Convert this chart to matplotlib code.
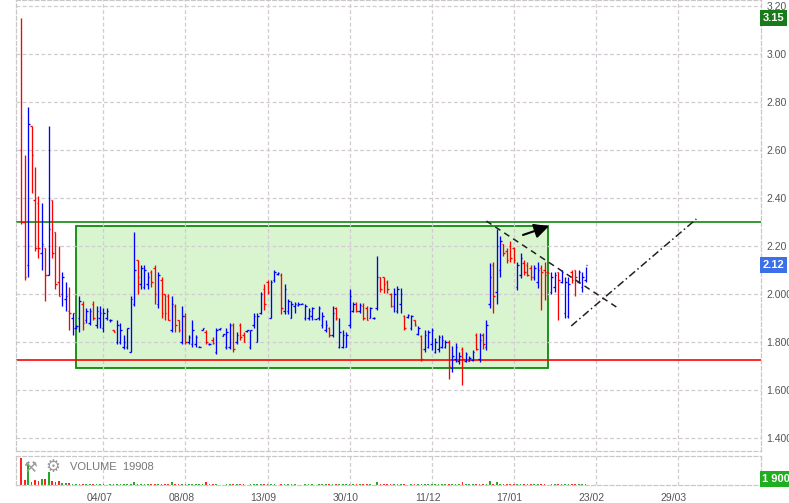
import matplotlib.pyplot as plt
import matplotlib.transforms as mtransforms
from matplotlib.patches import Rectangle

plt.rcParams['font.family'] = ['Liberation Sans', 'DejaVu Sans']

# --- данные (дневные бары OHLC) ---
opens = [2.60, 2.30, 2.12, 2.70, 2.39, 2.38, 2.17, 2.19, 2.08, 2.39,
         2.26, 2.05, 2.00, 1.98, 1.93, 1.90, 1.86, 1.90, 1.96, 1.89,
         1.88, 1.96, 1.87, 1.90, 1.86, 1.90, 1.89, 1.85, 1.80, 1.80,
         1.78, 1.78, 1.76, 1.96, 2.14, 2.04, 2.03, 2.04, 2.09, 2.11,
         1.96, 2.06, 2.00, 1.99, 1.85, 1.95, 1.89, 1.80, 1.91, 1.80,
         1.79, 1.79, 1.78, 1.85, 1.84, 1.79, 1.81, 1.76, 1.855, 1.826,
         1.78, 1.78, 1.87, 1.80, 1.87, 1.83, 1.845, 1.78, 1.87, 1.80,
         1.92, 2.02, 2.05, 1.90, 2.06, 2.085, 2.08, 1.93, 1.93, 1.90,
         1.95, 1.955, 1.96, 1.90, 1.90, 1.91, 1.895, 1.90, 1.87, 1.85,
         1.86, 1.83, 1.94, 1.78, 1.78, 1.78, 1.87, 1.93, 1.96, 1.93,
         1.95, 1.94, 1.90, 1.90, 1.94, 2.07, 2.07, 2.05, 2.00, 1.95,
         1.93, 1.96, 1.91, 1.905, 1.86, 1.89, 1.835, 1.825, 1.77, 1.78,
         1.79, 1.76, 1.77, 1.78, 1.78, 1.80, 1.69, 1.73, 1.72, 1.77,
         1.72, 1.72, 1.725, 1.83, 1.73, 1.83, 1.78, 1.96, 2.12, 2.01,
         2.10, 2.21, 2.18, 2.20, 2.19, 2.03, 2.08, 2.13, 2.12, 2.11,
         2.07, 2.05, 2.11, 2.10, 2.09, 2.01, 2.03, 2.09, 2.05, 1.92,
         1.91, 2.09, 2.10, 2.05, 2.03, 2.06]
highs = [3.15, 2.58, 2.78, 2.70, 2.53, 2.41, 2.38, 2.19, 2.70, 2.39,
         2.26, 2.20, 2.09, 2.05, 2.03, 1.92, 1.87, 1.99, 1.97, 1.94,
         1.94, 1.97, 1.95, 1.95, 1.94, 1.94, 1.895, 1.85, 1.89, 1.88,
         1.83, 1.86, 1.99, 2.26, 2.14, 2.12, 2.12, 2.09, 2.10, 2.12,
         2.09, 2.07, 2.00, 2.00, 1.99, 1.96, 1.89, 1.95, 1.92, 1.83,
         1.89, 1.83, 1.785, 1.86, 1.85, 1.795, 1.82, 1.86, 1.86, 1.834,
         1.86, 1.88, 1.88, 1.84, 1.88, 1.84, 1.85, 1.85, 1.92, 1.92,
         2.01, 2.04, 2.06, 2.06, 2.10, 2.09, 2.086, 2.04, 1.98, 1.97,
         1.965, 1.965, 1.962, 1.96, 1.94, 1.945, 1.898, 1.95, 1.926, 1.89,
         1.864, 1.95, 1.947, 1.90, 1.85, 1.843, 2.02, 1.968, 1.968, 1.961,
         1.961, 1.95, 1.947, 1.905, 2.16, 2.072, 2.072, 2.058, 2.003, 2.024,
         2.035, 2.024, 1.912, 1.915, 1.912, 1.892, 1.868, 1.829, 1.85, 1.85,
         1.86, 1.815, 1.83, 1.83, 1.81, 1.81, 1.785, 1.794, 1.76, 1.78,
         1.76, 1.74, 1.767, 1.836, 1.836, 1.836, 1.892, 2.13, 2.135, 2.27,
         2.24, 2.21, 2.19, 2.22, 2.197, 2.135, 2.169, 2.14, 2.135, 2.12,
         2.12, 2.135, 2.12, 2.135, 2.093, 2.093, 2.093, 2.093, 2.10, 2.072,
         2.072, 2.10, 2.10, 2.10, 2.09, 2.114]
lows = [2.29, 2.06, 2.07, 2.42, 2.18, 2.15, 2.10, 1.97, 2.08, 2.15,
        2.02, 1.99, 1.95, 1.93, 1.85, 1.83, 1.855, 1.84, 1.85, 1.88,
        1.87, 1.89, 1.86, 1.86, 1.84, 1.89, 1.885, 1.84, 1.79, 1.79,
        1.77, 1.77, 1.76, 1.95, 2.00, 2.02, 2.02, 2.02, 2.03, 1.96,
        1.94, 1.90, 1.89, 1.89, 1.84, 1.84, 1.84, 1.79, 1.79, 1.79,
        1.78, 1.78, 1.778, 1.85, 1.79, 1.788, 1.79, 1.75, 1.85, 1.825,
        1.77, 1.77, 1.76, 1.79, 1.81, 1.80, 1.843, 1.77, 1.86, 1.80,
        1.915, 1.935, 2.00, 1.90, 2.05, 2.08, 1.915, 1.915, 1.915, 1.90,
        1.92, 1.95, 1.958, 1.89, 1.89, 1.89, 1.894, 1.89, 1.857, 1.843,
        1.822, 1.82, 1.892, 1.774, 1.774, 1.778, 1.86, 1.926, 1.926, 1.919,
        1.892, 1.892, 1.899, 1.895, 1.933, 2.01, 2.003, 2.003, 1.947, 1.926,
        1.92, 1.92, 1.85, 1.90, 1.85, 1.865, 1.829, 1.72, 1.76, 1.774,
        1.767, 1.753, 1.76, 1.774, 1.774, 1.646, 1.676, 1.718, 1.71, 1.62,
        1.715, 1.72, 1.72, 1.767, 1.718, 1.77, 1.767, 1.94, 1.92, 1.96,
        2.07, 2.16, 2.13, 2.135, 2.128, 2.017, 2.065, 2.079, 2.076, 2.058,
        2.06, 2.024, 1.933, 1.975, 2.086, 2.00, 2.01, 1.892, 2.044, 1.899,
        1.899, 2.044, 1.99, 2.044, 2.01, 2.05]
closes = [2.30, 2.07, 2.71, 2.58, 2.19, 2.19, 2.21, 2.08, 2.27, 2.17,
          2.04, 1.99, 2.07, 1.99, 1.92, 1.92, 1.865, 1.97, 1.88, 1.93,
          1.93, 1.90, 1.93, 1.92, 1.92, 1.93, 1.892, 1.843, 1.87, 1.85,
          1.80, 1.86, 1.98, 2.10, 2.07, 2.11, 2.10, 2.07, 2.05, 2.00,
          2.08, 1.92, 1.92, 1.89, 1.96, 1.87, 1.85, 1.91, 1.80, 1.82,
          1.85, 1.82, 1.781, 1.86, 1.80, 1.792, 1.795, 1.85, 1.86, 1.832,
          1.84, 1.87, 1.77, 1.83, 1.82, 1.80, 1.85, 1.85, 1.91, 1.91,
          2.00, 1.96, 2.01, 2.05, 2.09, 2.086, 1.94, 2.02, 1.97, 1.96,
          1.96, 1.96, 1.96, 1.95, 1.93, 1.94, 1.896, 1.94, 1.91, 1.87,
          1.83, 1.92, 1.90, 1.84, 1.83, 1.83, 1.99, 1.96, 1.93, 1.955,
          1.90, 1.89, 1.94, 1.90, 2.07, 2.02, 2.04, 2.02, 1.95, 2.00,
          2.02, 2.00, 1.86, 1.912, 1.91, 1.87, 1.86, 1.73, 1.83, 1.84,
          1.85, 1.80, 1.82, 1.81, 1.80, 1.70, 1.74, 1.78, 1.74, 1.73,
          1.75, 1.735, 1.76, 1.77, 1.81, 1.79, 1.87, 2.07, 1.99, 2.20,
          2.22, 2.17, 2.14, 2.15, 2.14, 2.12, 2.15, 2.09, 2.08, 2.07,
          2.11, 2.10, 2.09, 2.08, 2.088, 2.07, 2.08, 2.06, 2.09, 2.05,
          2.04, 2.06, 2.07, 2.09, 2.07, 2.12]
volumes = [93, 17, 72, 10, 17, 14, 21, 21, 45, 14, 10, 14, 7, 7, 7,
           3, 2, 2, 2, 2, 2, 2, 2, 2, 2, 1, 2, 2, 2, 2, 2,
           2, 2, 10, 2, 2, 2, 2, 2, 2, 2, 2, 2, 2, 10, 2,
           2, 2, 2, 2, 2, 2, 2, 2, 10, 2, 2, 2, 1, 1, 2,
           2, 2, 2, 2, 2, 1, 2, 2, 2, 2, 2, 2, 2, 2, 1,
           2, 2, 2, 2, 2, 1, 1, 2, 2, 2, 1, 2, 2, 2, 2,
           2, 2, 2, 2, 2, 5, 2, 2, 2, 2, 2, 2, 1, 10, 2,
           2, 2, 2, 2, 2, 2, 2, 1, 2, 2, 2, 3, 2, 2, 2,
           2, 2, 2, 2, 4, 2, 2, 2, 10, 2, 2, 2, 3, 2, 3,
           2, 14, 3, 10, 3, 2, 2, 5, 2, 2, 2, 2, 2, 2, 2,
           2, 2, 2, 1, 2, 2, 3, 2, 2, 2, 3, 2, 2, 2, 2]

date_pos = [24, 48, 72, 96, 120, 144, 168, 192]
date_labels = ['04/07', '08/08', '13/09', '30/10', '11/12', '17/01', '23/02', '29/03']
price_ticks = [1.40, 1.60, 1.80, 2.00, 2.20, 2.40, 2.60, 2.80, 3.00, 3.20]
price_labels = ['1.400', '1.600', '1.800', '2.000', '2.20', '2.40', '2.60', '2.80', '3.00', '3.20']

# разметка аналитика
resist_level = 2.30
support_level = 1.725
box_x = [16.1, 154.0]
box_y = [1.69, 2.283]
trend_down_x = [136.0, 174.0]
trend_down_y = [2.304, 1.946]
trend_up_x = [160.8, 197.4]
trend_up_y = [1.867, 2.3125]
arrow_from = (146.7, 2.246)
arrow_to = (154.3, 2.283)
max_price = 3.15
last_price = 2.12
last_volume = '1 900'
volume_title = 'VOLUME  19908'

n = len(opens)
idx = list(range(n))
up = [c >= o for o, c in zip(opens, closes)]
bar_col = ['#0000ff' if u else '#ff0000' for u in up]
vol_col = ['#22aa22' if u else '#ff2222' for u in up]

W, H = 789, 503
fig = plt.figure(figsize=(W / 100, H / 100), dpi=100)
ax = fig.add_axes([16 / W, 52 / H, 745 / W, 451 / H])
axv = fig.add_axes([16 / W, 18 / H, 745 / W, 29 / H])

xlim = (-1.55, 216.3)
grid_col = '#d2cbd2'

# ценовая панель
ax.set_xlim(*xlim)
ax.set_ylim(1.346, 3.225)
ax.set_axisbelow(True)
ax.grid(True, color=grid_col, linestyle=(0, (3, 2)), linewidth=0.9)
ax.set_xticks(date_pos)
ax.set_xticklabels([])
ax.yaxis.tick_right()
ax.set_yticks(price_ticks)
ax.set_yticklabels(price_labels)
ax.tick_params(axis='both', length=0)
ax.tick_params(axis='y', pad=4, labelsize=7.5, labelcolor='#555555')
for s in ax.spines.values():
    s.set_color('#c8c8c8')
    s.set_linestyle((0, (3, 2)))
    s.set_linewidth(0.9)

ax.add_patch(Rectangle((box_x[0], box_y[0]), box_x[1] - box_x[0], box_y[1] - box_y[0],
                       facecolor='#d8f5d0', edgecolor='#0a8a0a', linewidth=1.3, zorder=0.3))
ax.axhline(resist_level, color='#118811', linewidth=1.2, zorder=2)
ax.axhline(support_level, color='#ff0000', linewidth=1.2, zorder=2)

ax.vlines(idx, lows, highs, colors=bar_col, linewidth=0.95, zorder=3)
ax.hlines(opens, [i - 0.45 for i in idx], idx, colors=bar_col, linewidth=0.95, zorder=3)
ax.hlines(closes, idx, [i + 0.45 for i in idx], colors=bar_col, linewidth=0.95, zorder=3)

ax.plot(trend_down_x, trend_down_y, color='#222222', linestyle=(0, (4, 3)), linewidth=1.1, zorder=4)
ax.plot(trend_up_x, trend_up_y, color='#222222', linestyle=(0, (5, 2, 1, 2)), linewidth=1.1, zorder=4)
ax.annotate('', xy=arrow_to, xytext=arrow_from,
            arrowprops=dict(arrowstyle='-|>', color='black', lw=1.5, mutation_scale=22,
                            shrinkA=0, shrinkB=0), zorder=5)

tr = ax.get_yaxis_transform()
ax.text(1.002, max_price, f'{max_price:.2f}', transform=tr, ha='left', va='center',
        fontsize=8, fontweight='bold', color='white', clip_on=False,
        bbox=dict(boxstyle='square,pad=0.25', facecolor='#197a19', edgecolor='none'))
ax.text(1.002, last_price, f'{last_price:.2f}', transform=tr, ha='left', va='center',
        fontsize=8, fontweight='bold', color='white', clip_on=False,
        bbox=dict(boxstyle='square,pad=0.25', facecolor='#3d6fe8', edgecolor='none'))

# панель объёма
axv.set_xlim(*xlim)
axv.set_ylim(0, 100)
axv.set_axisbelow(True)
axv.grid(True, axis='x', color=grid_col, linestyle=(0, (3, 2)), linewidth=0.9)
axv.bar(idx, volumes, width=0.5, color=vol_col, zorder=2)
axv.set_xticks(date_pos)
axv.set_xticklabels(date_labels)
axv.set_yticks([])
axv.tick_params(axis='x', length=0, pad=6, labelsize=7.5, labelcolor='#555555')
shift = mtransforms.ScaledTranslation(-4 / 100, 0, fig.dpi_scale_trans)
for lab in axv.get_xticklabels():
    lab.set_transform(lab.get_transform() + shift)
for s in axv.spines.values():
    s.set_color('#c8c8c8')
    s.set_linestyle((0, (3, 2)))
    s.set_linewidth(0.9)
axv.text(1.002, 0.2, last_volume, transform=axv.transAxes, ha='left', va='center',
         fontsize=8, fontweight='bold', color='white', clip_on=False,
         bbox=dict(boxstyle='square,pad=0.25', facecolor='#1fae1f', edgecolor='none'))

fig.text(23 / W, 1 - 467 / H, '\u2692', fontsize=11, color='#9a9a9a', va='center',
         family=['DejaVu Sans'])
fig.text(45 / W, 1 - 467 / H, '\u2699', fontsize=12, color='#9a9a9a', va='center',
         family=['DejaVu Sans'])
fig.text(70 / W, 1 - 467 / H, volume_title, fontsize=8, color='#777777', va='center')

fig.savefig('out.png', dpi=100)
